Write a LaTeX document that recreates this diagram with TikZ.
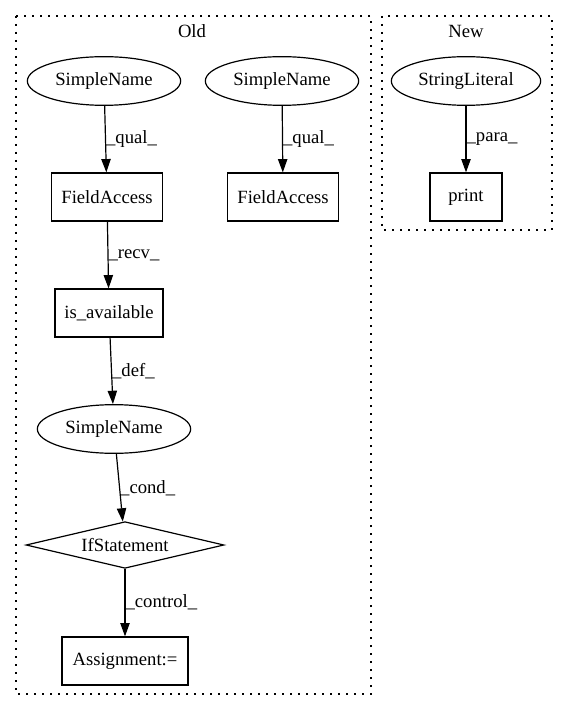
\documentclass[tikz,border=0pt]{standalone}
\usepackage{fontspec}
\setmainfont{Liberation Serif}
\usetikzlibrary{arrows.meta,shapes.geometric}

\begin{document}
\begin{tikzpicture}[x=.75pt, y=-.75pt, line width=.9pt, font=\fontsize{14pt}{16pt}\selectfont,
  ell/.style={draw, ellipse, inner sep=0pt, minimum width=115pt, minimum height=36.5pt},
  box/.style={draw, rectangle, inner sep=0pt, minimum height=36pt},
  cond/.style={draw, diamond, aspect=4, inner sep=0pt, minimum width=148.5pt, minimum height=35pt},
  cluster/.style={draw, dash pattern=on 1.5pt off 4.5pt},
  lbl/.style={anchor=west, inner sep=0pt, fill=none},
  edge/.style={-{Triangle[length=10pt, width=7pt]}}]
  \useasboundingbox (0,0) rectangle (568,712);
  % clusters
  \draw [cluster] (16,16) rectangle (371,694);
  \draw [cluster] (382,16) rectangle (552,230);
  \node (old) at (192,31) {Old};
  \node (new) at (466,31) {New};
  % old
  \node [ell] (sn1) at (104,81) {SimpleName};
  \node [ell] (sn2) at (282,81) {SimpleName};
  \node [box, minimum width=83pt] (fa1) at (107,197) {FieldAccess};
  \node [box, minimum width=83pt] (fa2) at (283,197) {FieldAccess};
  \node [box, minimum width=81pt] (avail) at (109,313) {is\_available};
  \node [ell] (sn3) at (114,429) {SimpleName};
  \node [cond] (ifst) at (125,545) {IfStatement};
  \node [box, minimum width=94.5pt] (assign) at (125,661) {Assignment:=};
  % new
  \node [ell, minimum width=112pt] (strlit) at (466,81) {StringLiteral};
  \node [box, minimum width=54pt] (print) at (466,197) {print};
  % edges
  \draw [edge] (sn1) -- node [lbl] {\_qual\_} (fa1);
  \draw [edge] (sn2) -- node [lbl] {\_qual\_} (fa2);
  \draw [edge] (strlit) -- node [lbl] {\_para\_} (print);
  \draw [edge] (fa1) -- node [lbl] {\_recv\_} (avail);
  \draw [edge] (avail) -- node [lbl] {\_def\_} (sn3);
  \draw [edge] (sn3) -- node [lbl] {\_cond\_} (ifst);
  \draw [edge] (ifst) -- node [lbl] {\_control\_} (assign);
\end{tikzpicture}
\end{document}
